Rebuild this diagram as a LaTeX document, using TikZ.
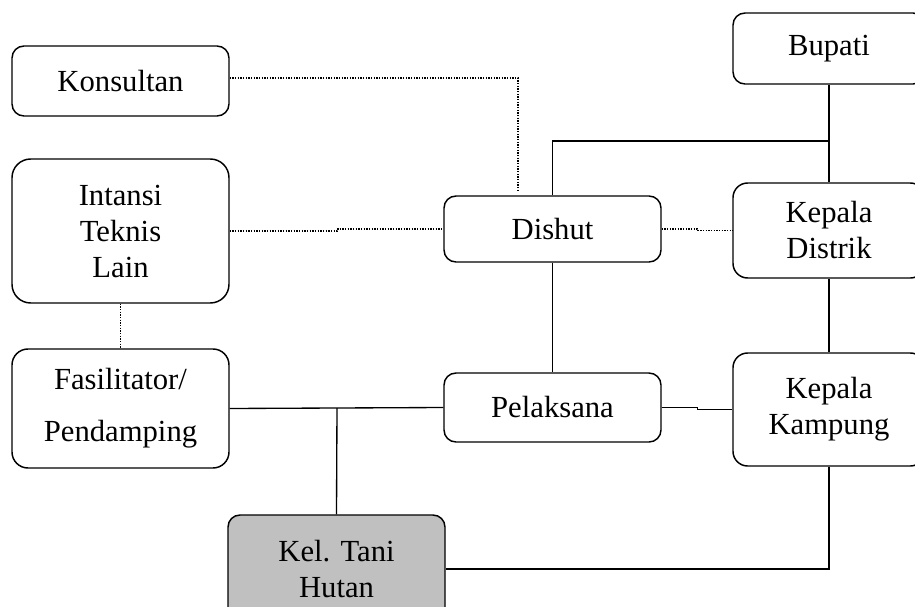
\documentclass[tikz,border=0pt]{standalone}
\usepackage{fontspec}
\setmainfont{Liberation Serif}
\usetikzlibrary{positioning}

\begin{document}
\begin{tikzpicture}[x=0.75pt,y=0.75pt,yscale=-1,xscale=1,
  box/.style={draw, line width=1.1pt, rounded corners=9pt, inner sep=0pt,
    minimum width=162.75pt, align=center, font=\fontsize{23}{27}\selectfont},
  rbox/.style={box, minimum width=144pt},
  link/.style={line width=1pt},
  dots/.style={line width=0.9pt, dash pattern=on 1pt off 1pt}]
  \useasboundingbox (0,0) rectangle (915,607);
  \clip (0,0) rectangle (915,607);

  % left column
  \node [box, minimum height=52.5pt] (konsultan) at (120.5,81) {Konsultan};
  \node [box, rounded corners=14pt, minimum height=108pt] (intansi) at (120.5,231) {Intansi\\Teknis\\Lain};
  \node [box, rounded corners=12pt, minimum height=89.25pt] (fasilitator) at (120.5,408.5) {Fasilitator/\\[12pt]Pendamping};
  \node [box, fill={rgb,255:red,192;green,192;blue,192}, minimum height=81pt] (keltani) at (336.5,569) {Kel. Tani\\Hutan};

  % middle column
  \node [box, minimum height=49.5pt] (dishut) at (552.5,229) {Dishut};
  \node [box, minimum height=51.75pt] (pelaksana) at (552.5,407.5) {Pelaksana};

  % right column
  \node [rbox, minimum height=53.25pt] (bupati) at (829,48.5) {Bupati};
  \node [rbox, rounded corners=11pt, minimum height=71.25pt] (distrik) at (829,230.5) {Kepala\\Distrik};
  \node [rbox, rounded corners=11pt, minimum height=84.75pt] (kampung) at (829,409.5) {Kepala\\Kampung};

  \coordinate (top) at (829,141);
  \coordinate (kend) at (518,190);
  \coordinate (split) at (337,408);

  % solid lines
  \draw [link] (bupati.south) -- (distrik.north);
  \draw [link] (dishut.north) |- (top);
  \draw [link] (dishut.south) -- (pelaksana.north);
  \draw [link] (distrik.south) -- (kampung.north);
  \draw [link] (pelaksana.east) -- ++(36,0) |- (kampung.west);
  \draw [link] (fasilitator.east) -- (pelaksana.west);
  \draw [link] (split) -- (keltani.north);
  \draw [link] (kampung.south) |- (keltani.east);

  % dotted lines
  \draw [dots] ([yshift=-2.25pt]konsultan.east) -| (kend);
  \draw [dots] (intansi.east) -- ++(108,0) |- (dishut.west);
  \draw [dots] (dishut.east) -- ++(36,0) |- (distrik.west);
  \draw [dots] (intansi.south) -- (fasilitator.north);
\end{tikzpicture}
\end{document}
